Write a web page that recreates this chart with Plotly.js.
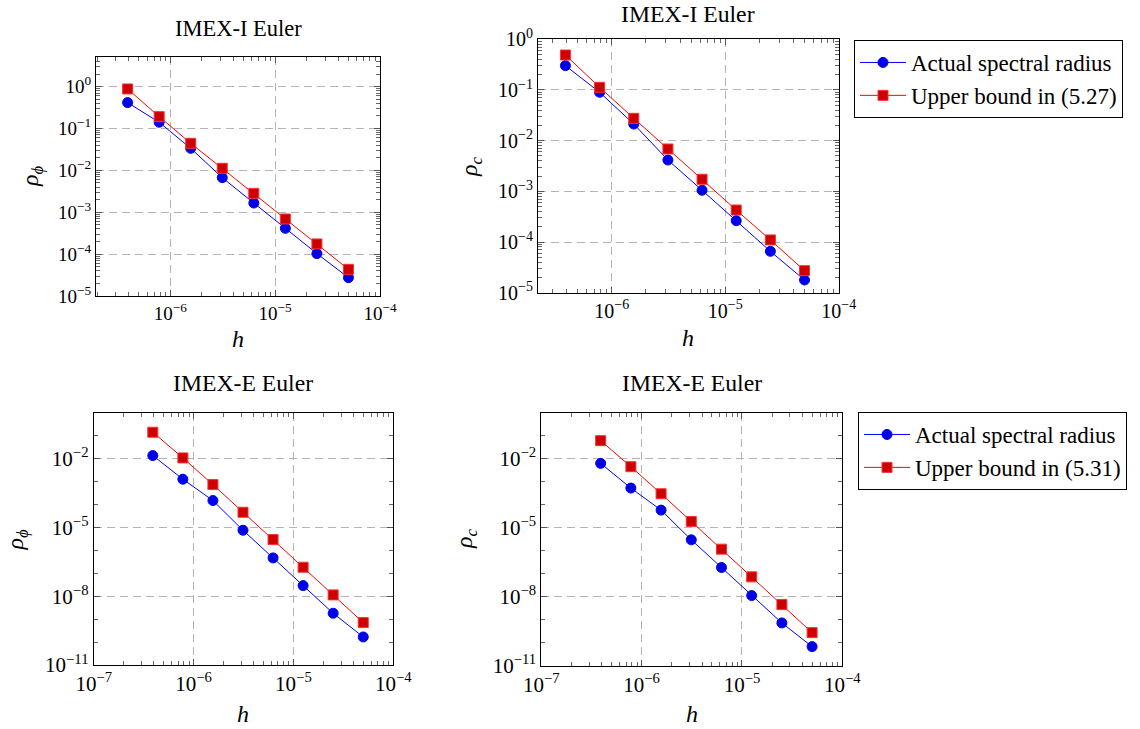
<!DOCTYPE html>
<html>
<head>
<meta charset="utf-8">
<script src="https://cdn.plot.ly/plotly-3.0.1.min.js"></script>
<style>
  html, body { margin: 0; padding: 0; background: #ffffff; }
  #chart { width: 1140px; height: 729px; }
</style>
</head>
<body>
<div id="chart"></div>
<script>
// Step sizes h (halved each refinement)
const stepSizes = [3.90625e-7, 7.8125e-7, 1.5625e-6, 3.125e-6, 6.25e-6, 1.25e-5, 2.5e-5, 5e-5];

// IMEX-I Euler: spectral radius of the phi and c iteration matrices
const imexIPhiActual = [0.415, 0.141, 0.0336, 0.0067, 0.00166, 4.13e-4, 1.03e-4, 2.74e-5];
const imexIPhiBound  = [0.88, 0.192, 0.0443, 0.0112, 0.00283, 6.9e-4, 1.75e-4, 4.34e-5];
const imexICActual   = [0.302, 0.090, 0.0213, 0.00415, 0.00105, 2.64e-4, 6.55e-5, 1.78e-5];
const imexICBound    = [0.49, 0.113, 0.0276, 0.00685, 0.00173, 4.28e-4, 1.10e-4, 2.72e-5];

// IMEX-E Euler
const imexEPhiActual = [0.0135, 1.26e-3, 1.48e-4, 7.5e-6, 4.67e-7, 2.9e-8, 1.80e-9, 1.67e-10];
const imexEPhiBound  = [0.1406, 0.0107, 7.35e-4, 4.57e-5, 2.94e-6, 1.83e-7, 1.14e-8, 7.06e-10];
const imexECActual   = [6.27e-3, 5.28e-4, 5.82e-5, 2.97e-6, 1.86e-7, 1.12e-8, 7.24e-10, 6.76e-11];
const imexECBound    = [0.0608, 4.49e-3, 2.99e-4, 1.87e-5, 1.17e-6, 7.28e-8, 4.54e-9, 2.74e-10];

// Series names
const actualName = 'Actual spectral radius';
const boundNameI = 'Upper bound in (5.27)';
const boundNameE = 'Upper bound in (5.31)';

// Panel titles and axis titles
const panelTitles = ['IMEX-I Euler', 'IMEX-I Euler', 'IMEX-E Euler', 'IMEX-E Euler'];
const yTitles = ['<i>ρ</i><sub><i>ϕ</i></sub>', '<i>ρ</i><sub><i>c</i></sub>',
                 '<i>ρ</i><sub><i>ϕ</i></sub>', '<i>ρ</i><sub><i>c</i></sub>'];
const xTitle = '<i>h</i>';

// Decade exponents that carry labels
const xTickExpsTop    = [-6, -5, -4];
const xTickExpsBottom = [-7, -6, -5, -4];
const yTickExpsTop    = [-5, -4, -3, -2, -1, 0];
const yTickExpsBottom = [-11, -8, -5, -2];

const FONT = "'Liberation Serif', 'Times New Roman', serif";
const BLUE = '#0000ff';
const RED = '#ff0000';

function powLabel(e) {
  return '10<sup>' + (e < 0 ? '\u2212' + (-e) : String(e)) + '</sup>';
}

// minor marks at 2..9 x 10^k inside [lo, hi] decades
function subDecades(lo, hi) {
  const out = [];
  for (let k = lo; k <= hi; k++) {
    for (let m = 2; m <= 9; m++) out.push(m * Number('1e' + k));
  }
  return out;
}
// minor marks at every unlabelled decade
function wholeDecades(lo, hi, skip) {
  const out = [];
  for (let k = lo; k <= hi; k++) if (skip.indexOf(k) < 0) out.push(Number('1e' + k));
  return out;
}

function logAxis(opts) {
  return {
    type: 'log',
    domain: opts.domain,
    range: opts.range,
    anchor: opts.anchor,
    tickmode: 'array',
    tickvals: opts.exps.map(e => Number('1e' + e)),
    ticktext: opts.exps.map(powLabel),
    ticks: 'inside',
    ticklen: 6,
    tickwidth: 1,
    tickcolor: '#555555',
    showline: true,
    linecolor: '#000000',
    linewidth: 1,
    mirror: 'allticks',
    showgrid: true,
    gridcolor: '#b4b4b4',
    griddash: '8px,5px',
    gridwidth: 1,
    zeroline: false,
    tickfont: { family: FONT, size: opts.fontSize, color: '#000000' },
    minor: {
      tickmode: 'array',
      tickvals: opts.minor,
      ticks: 'inside',
      ticklen: 4,
      tickwidth: 1,
      tickcolor: '#666666',
      showgrid: false
    },
    fixedrange: true,
    automargin: false
  };
}

function actualTrace(xa, ya, y, show, legendId) {
  return {
    x: stepSizes, y: y, xaxis: xa, yaxis: ya,
    type: 'scatter', mode: 'lines+markers', name: actualName,
    line: { color: BLUE, width: 1 },
    marker: { symbol: 'circle', size: 10, color: '#0000e6', line: { color: BLUE, width: 1 } },
    showlegend: show, legend: legendId
  };
}
function boundTrace(xa, ya, y, name, show, legendId) {
  return {
    x: stepSizes, y: y, xaxis: xa, yaxis: ya,
    type: 'scatter', mode: 'lines+markers', name: name,
    line: { color: RED, width: 1 },
    marker: { symbol: 'square', size: 10, color: '#cc0000', line: { color: '#ff3030', width: 1 } },
    showlegend: show, legend: legendId
  };
}

const data = [
  actualTrace('x', 'y', imexIPhiActual, false, 'legend'),
  boundTrace('x', 'y', imexIPhiBound, boundNameI, false, 'legend'),
  actualTrace('x2', 'y2', imexICActual, true, 'legend'),
  boundTrace('x2', 'y2', imexICBound, boundNameI, true, 'legend'),
  actualTrace('x3', 'y3', imexEPhiActual, false, 'legend2'),
  boundTrace('x3', 'y3', imexEPhiBound, boundNameE, false, 'legend2'),
  actualTrace('x4', 'y4', imexECActual, true, 'legend2'),
  boundTrace('x4', 'y4', imexECBound, boundNameE, true, 'legend2')
];

const W = 1140, H = 729;
const px = v => v / W;
const py = v => 1 - v / H;

// plot boxes in pixels: [left, right, top, bottom]
const boxes = [
  [96, 380, 57.3, 296],
  [538, 838.7, 39.3, 292.7],
  [93.7, 393.3, 412.7, 665],
  [541.3, 842.3, 412.7, 665.7]
];
const dom = b => ({ x: [px(b[0]), px(b[1])], y: [py(b[3]), py(b[2])] });
const d = boxes.map(dom);

const legendStyle = {
  xanchor: 'left', yanchor: 'top',
  bordercolor: '#000000', borderwidth: 1, bgcolor: '#ffffff',
  font: { family: FONT, size: 23, color: '#000000' },
  tracegroupgap: 0, itemwidth: 46
};

const layout = {
  width: W, height: H,
  margin: { l: 0, r: 0, t: 0, b: 0 },
  paper_bgcolor: '#ffffff',
  plot_bgcolor: '#ffffff',
  font: { family: FONT, color: '#000000' },
  xaxis:  logAxis({ domain: d[0].x, range: [-6.71, -4], anchor: 'y',  exps: xTickExpsTop, minor: subDecades(-7, -5), fontSize: 19 }),
  yaxis:  logAxis({ domain: d[0].y, range: [-5, 0.70], anchor: 'x',  exps: yTickExpsTop, minor: subDecades(-5, 0), fontSize: 19 }),
  xaxis2: logAxis({ domain: d[1].x, range: [-6.65, -4], anchor: 'y2', exps: xTickExpsTop, minor: subDecades(-7, -5), fontSize: 20 }),
  yaxis2: logAxis({ domain: d[1].y, range: [-5, 0], anchor: 'x2', exps: yTickExpsTop, minor: subDecades(-5, -1), fontSize: 20 }),
  xaxis3: logAxis({ domain: d[2].x, range: [-7, -4], anchor: 'y3', exps: xTickExpsBottom, minor: subDecades(-7, -5), fontSize: 21 }),
  yaxis3: logAxis({ domain: d[2].y, range: [-11, 0], anchor: 'x3', exps: yTickExpsBottom, minor: wholeDecades(-11, 0, yTickExpsBottom), fontSize: 21 }),
  xaxis4: logAxis({ domain: d[3].x, range: [-7, -4], anchor: 'y4', exps: xTickExpsBottom, minor: subDecades(-7, -5), fontSize: 21 }),
  yaxis4: logAxis({ domain: d[3].y, range: [-11, 0], anchor: 'x4', exps: yTickExpsBottom, minor: wholeDecades(-11, 0, yTickExpsBottom), fontSize: 21 }),
  legend:  Object.assign({ x: px(854), y: py(40) }, legendStyle),
  legend2: Object.assign({ x: px(858), y: py(412) }, legendStyle),
  annotations: []
};

// panel titles
const titleCenters = [[238, 28.2, 22.5], [688, 14, 23.7], [243, 382.8, 23.7], [691.7, 382.8, 23.7]];
titleCenters.forEach((c, i) => {
  layout.annotations.push({
    text: panelTitles[i], xref: 'paper', yref: 'paper',
    x: px(c[0]), y: py(c[1]), xanchor: 'center', yanchor: 'middle',
    showarrow: false, font: { family: FONT, size: c[2], color: '#000000' }
  });
});
// x axis titles
const hCenters = [[238, 339], [688.3, 338], [243.3, 714], [691.7, 714]];
hCenters.forEach(c => {
  layout.annotations.push({
    text: xTitle, xref: 'paper', yref: 'paper',
    x: px(c[0]), y: py(c[1]), xanchor: 'center', yanchor: 'middle',
    showarrow: false, font: { family: FONT, size: 24, color: '#000000' }
  });
});
// y axis titles
const rhoCenters = [[32, 176], [471, 167], [16.5, 540], [466, 539]];
rhoCenters.forEach((c, i) => {
  layout.annotations.push({
    text: yTitles[i], xref: 'paper', yref: 'paper',
    x: px(c[0]), y: py(c[1]), xanchor: 'center', yanchor: 'middle',
    textangle: -90,
    showarrow: false, font: { family: FONT, size: 24, color: '#000000' }
  });
});

Plotly.newPlot('chart', data, layout, { displayModeBar: false, staticPlot: true });
</script>
</body>
</html>
